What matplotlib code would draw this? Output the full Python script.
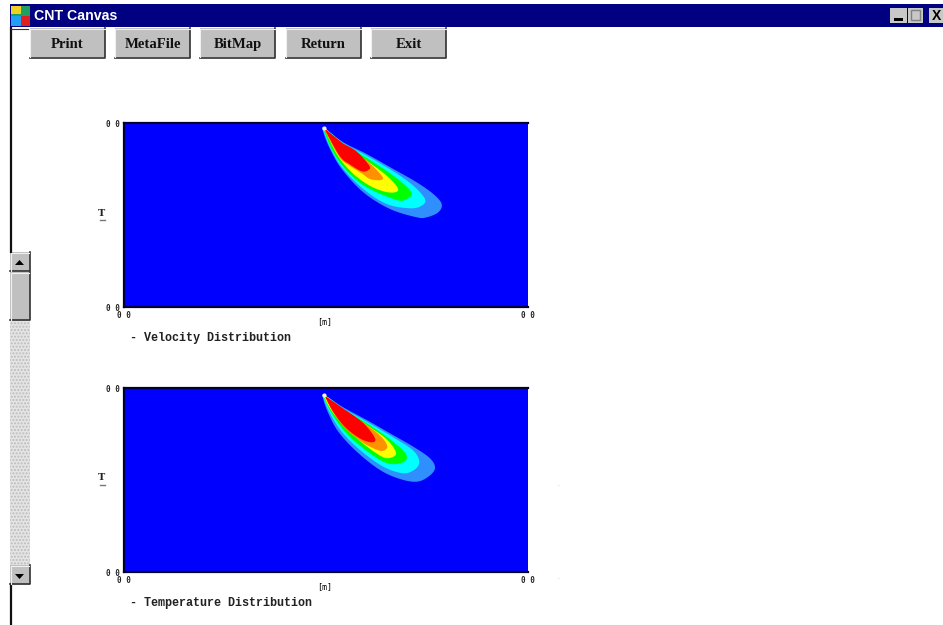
import numpy as np
from matplotlib import pyplot as plt
from matplotlib.patches import Rectangle, Polygon

# band colours, outermost first
band_colors = ['#2f8fff', '#00ffff', '#00ff00', '#ffff00', '#ff9000', '#ff0000']

# contour outlines, x along the plot, y down from the top
vel_x = [
    [200.3, 219.3, 242.7, 269.3, 292.7, 309.3, 317.7, 314.3, 302.7, 292.7, 266, 239.3, 217.7, 206, 199.3],
    [200.3, 219.3, 242.7, 269.3, 289.3, 301, 297.7, 286, 262.7, 239.3, 219.3, 207.7, 200],
    [200.3, 219.3, 242.7, 266, 282.7, 287.7, 282.7, 272.7, 242.7, 222.7, 209.3, 200.7],
    [200.3, 219.3, 242.7, 262.7, 273.7, 271, 259.3, 242.7, 226, 212.7, 202],
    [200.3, 219.3, 242.7, 257.7, 257, 246, 237.7, 226, 216, 204.3],
    [201.5, 209.3, 219.3, 232.7, 245.3, 244.3, 237.7, 226, 216, 203.5],
]
vel_y = [
    [5, 19.3, 31, 46, 59.3, 71, 81, 89.3, 94.3, 94.3, 86, 69.3, 46, 26, 9.3],
    [5, 20, 32.7, 48.3, 62.7, 76, 82.7, 85.3, 81, 66, 46, 27.7, 9.3],
    [5, 21, 35, 50.3, 63.7, 71, 76, 77, 64.3, 47.7, 29.3, 9.3],
    [5, 21.7, 37.7, 52.7, 65, 69.3, 68.3, 61, 47.7, 31, 9.3],
    [5, 21.7, 37.7, 52.7, 57, 56, 50.3, 43, 35, 14.3],
    [6.5, 12.7, 20.5, 28.5, 42.7, 47, 48.3, 41.5, 33.5, 11.5],
]
temp_x = [
    [200.3, 219.3, 242.7, 266, 289.3, 306, 311, 304.3, 292.7, 276, 256, 232.7, 214.3, 204.3, 199.3],
    [200.3, 219.3, 242.7, 269.3, 289.3, 295.3, 291, 279.3, 259.3, 236, 217.7, 206, 200],
    [200.3, 219.3, 242.7, 266, 281, 282, 272.7, 259.3, 239.3, 221, 207.7, 200.7],
    [200.3, 219.3, 242.7, 262.7, 271.7, 269.3, 259.3, 241, 224.3, 209.3, 201.3],
    [200.3, 219.3, 242.7, 257.7, 263.3, 257.7, 246, 236, 221, 209.3, 202],
    [201.5, 207.7, 219.3, 239.3, 251, 247.7, 236, 221, 209.3, 202.7],
]
temp_y = [
    [7, 19.3, 32, 45.3, 58.7, 70.3, 80.3, 88.7, 93.7, 91, 82, 63.7, 43.7, 25.3, 11.3],
    [7, 20.3, 33.7, 49.3, 62.7, 73.7, 81.3, 85.3, 78.7, 62, 43.7, 25.3, 11.3],
    [7, 21.3, 35.3, 51.3, 64.7, 72, 76, 73.7, 60.3, 43.7, 25.3, 11.3],
    [7, 22, 37, 51.3, 63.7, 68.7, 69.3, 57, 42, 25.3, 11.3],
    [7, 22, 37, 49.3, 58.7, 63, 58.7, 52.5, 40, 24.5, 10.3],
    [8.5, 12.5, 20.5, 35, 50.3, 54.3, 50.5, 39, 24, 12],
]
tip_x = 200.3
vel_tip_y = 5
temp_tip_y = 7

button_labels = ['Print', 'MetaFile', 'BitMap', 'Return', 'Exit']
button_left = [30, 115, 200, 286, 371]
tick_text = ['0 0', '0 0']


def smooth_outline(xs, ys, n=8):
    # closed catmull-rom through the read points
    p = np.column_stack([xs, ys])
    out = []
    for i in range(len(p)):
        p0, p1, p2, p3 = p[i-1], p[i], p[(i+1) % len(p)], p[(i+2) % len(p)]
        for t in np.linspace(0, 1, n, endpoint=False):
            out.append(0.5*(2*p1 + (p2-p0)*t + (2*p0-5*p1+4*p2-p3)*t**2 + (3*p1-p0-3*p2+p3)*t**3))
    return np.array(out)


def plume_axes(top, bottom, xs, ys, tip_y, name):
    ax = fig.add_axes([124/W, 1-bottom/H, 404/W, (bottom-top)/H])
    ax.set_facecolor('#0000ff')
    ax.set_xlim(0, 404)
    ax.set_ylim(bottom-top, 0)
    for i in range(len(band_colors)):
        ax.add_patch(Polygon(smooth_outline(xs[i], ys[i]), closed=True, fc=band_colors[i], ec='none'))
    ax.plot([tip_x], [tip_y], 'o', ms=3, color='#ffe8e8', mec='none')
    ax.set_xticks([0, 404])
    ax.set_xticklabels(tick_text)
    ax.set_yticks([0, bottom-top])
    ax.set_yticklabels(tick_text)
    ax.tick_params(length=0, labelsize=5.5, pad=3, labelcolor='#222222')
    for lab in ax.get_xticklabels() + ax.get_yticklabels():
        lab.set_family('DejaVu Sans Mono')
        lab.set_weight('bold')
    for s in ['top', 'left', 'bottom']:
        ax.spines[s].set_linewidth(1.6)
        ax.spines[s].set_color('#000033')
    ax.spines['right'].set_visible(False)
    mid = (top+bottom)/2
    ui.text(325, bottom+15, '[m]', fontsize=6, ha='center', va='center', family='DejaVu Sans Mono')
    ui.text(102, mid-2, 'T', fontsize=7, ha='center', va='center', color='#222222',
            family='DejaVu Serif', weight='bold')
    ui.plot([99.5, 104.5], [mid+5, mid+5], color='#777777', lw=1)
    ui.text(130, bottom+31, '- '+name, fontsize=8.5, ha='left', va='center',
            family='Liberation Mono', weight='bold', color='#222222')


W = 943
H = 625
fig = plt.figure(figsize=(W/100, H/100), dpi=100, facecolor='white')

# window chrome in pixel coordinates
ui = fig.add_axes([0, 0, 1, 1])
ui.set_xlim(0, W)
ui.set_ylim(H, 0)
ui.axis('off')

ui.add_patch(Rectangle((10, 4), W-10, 23, fc='#000080', ec='none'))
ui.add_patch(Rectangle((11, 6), 19, 20, fc='#20a060', ec='none'))
ui.add_patch(Rectangle((11, 6), 10, 8, fc='#f0d020', ec='none'))
ui.add_patch(Rectangle((21, 16), 9, 10, fc='#e02020', ec='none'))
ui.add_patch(Rectangle((11, 16), 10, 10, fc='#20a0f0', ec='none'))
ui.text(34, 16.5, 'CNT Canvas', color='white', fontsize=10.2, weight='bold',
        family='Liberation Sans', va='center')

# min / max / close boxes
ui.add_patch(Rectangle((890, 8), 17, 15, fc='#c8c8c8', ec='none'))
ui.add_patch(Rectangle((894, 18), 9, 2.5, fc='black', ec='none'))
ui.add_patch(Rectangle((908, 8), 15, 15, fc='#c8c8c8', ec='none'))
ui.add_patch(Rectangle((911, 10), 9, 10, fc='none', ec='#808080', lw=1))
ui.add_patch(Rectangle((929, 8), 14, 15, fc='#c8c8c8', ec='none'))
ui.text(936, 16.5, 'X', fontsize=10, weight='bold', ha='center', va='center', family='Liberation Sans')

# left border, broken by the scrollbar
ui.plot([11, 11], [28, 252], color='#111111', lw=1.6)
ui.plot([11, 11], [584, 625], color='#111111', lw=1.6)
ui.plot([11, 28], [28.5, 28.5], color='#333333', lw=0.8)

for i in range(len(button_labels)):
    x = button_left[i]
    ui.add_patch(Rectangle((x, 28), 75, 29, fc='#c0c0c0', ec='none'))
    ui.plot([x, x+75, x+75], [57.5, 57.5, 28], color='#303030', lw=1.2)
    ui.plot([x, x, x+75], [57, 28.5, 28.5], color='#f0f0f0', lw=0.8)
    ui.text(x+37.5, 43, button_labels[i], fontsize=10.6, weight='bold', ha='center', va='center_baseline',
            family='Liberation Serif', color='#111111')

# scrollbar
ui.add_patch(Rectangle((10, 252), 20, 333, fc='#e4e4e4', ec='#bdbdbd', lw=0, hatch='.....'))
for y0, y1 in [(252, 271), (272, 320), (565, 584)]:
    ui.add_patch(Rectangle((10, y0), 20, y1-y0, fc='#c0c0c0', ec='none'))
    ui.plot([10, 29.5, 29.5], [y1, y1, y0], color='#303030', lw=1.2)
    ui.plot([10.5, 10.5, 29], [y1, y0+0.5, y0+0.5], color='#f0f0f0', lw=0.8)
ui.add_patch(Polygon([(15, 265), (24, 265), (19.5, 260)], fc='black', ec='none'))
ui.add_patch(Polygon([(15, 574), (24, 574), (19.5, 579)], fc='black', ec='none'))

plume_axes(123, 307, vel_x, vel_y, vel_tip_y, 'Velocity Distribution')
plume_axes(388, 572, temp_x, temp_y, temp_tip_y, 'Temperature Distribution')

# stray specks from the scan
ui.text(558, 486, '.', fontsize=4, color='#999999', ha='center')
ui.text(558, 579, '.', fontsize=4, color='#999999', ha='center')

fig.savefig('out.png', dpi=100)
